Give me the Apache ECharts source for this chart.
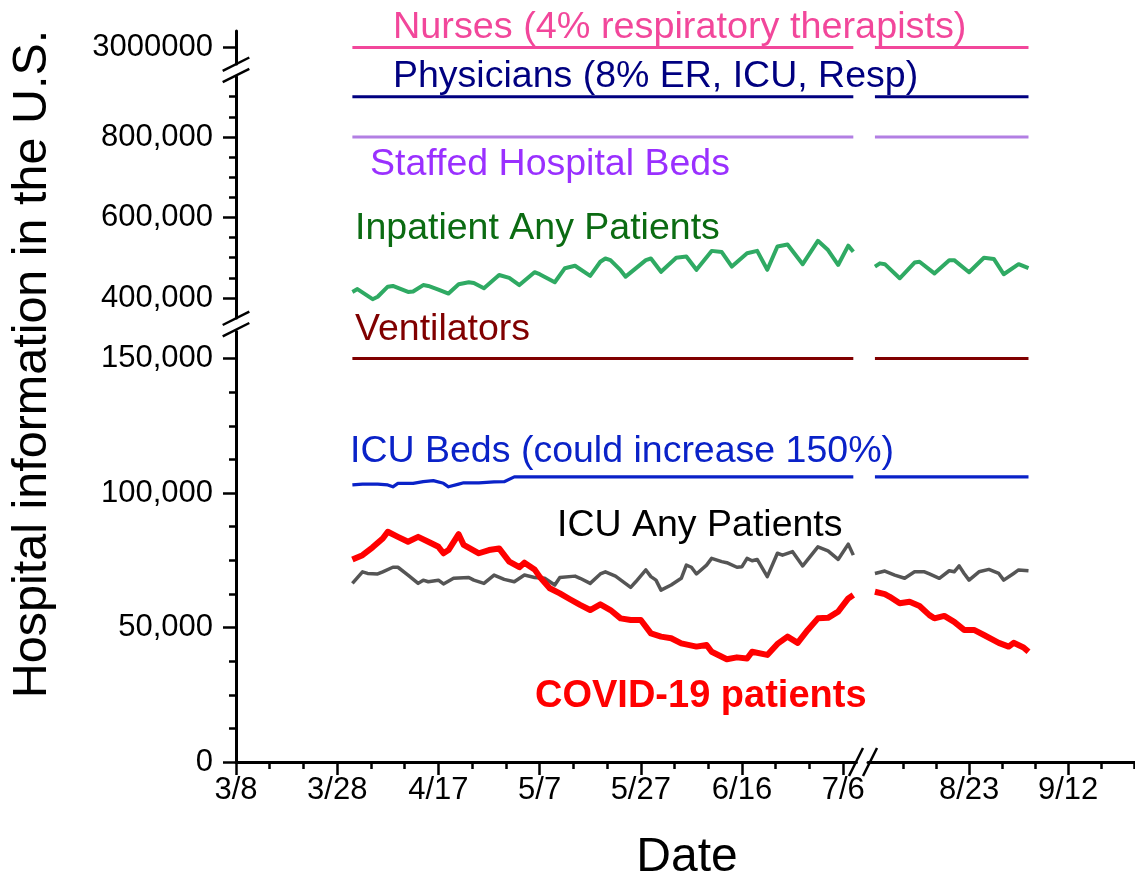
<!DOCTYPE html>
<html>
<head>
<meta charset="utf-8">
<title>Hospital information in the U.S.</title>
<script src="https://cdn.jsdelivr.net/npm/echarts@6/dist/echarts.min.js"></script>
<style>
  html, body { margin: 0; padding: 0; background: #fff; }
  #chart { width: 1135px; height: 882px; }
</style>
</head>
<body>
<div id="chart"></div>
<script>
// ---- data ----
// dates are M/D in 2020, values are people / beds / devices

// COVID-19 patients
const covidDatesA = ['3/31','4/2','4/4','4/6','4/7','4/9','4/11','4/13','4/15','4/17','4/18','4/19','4/21','4/22','4/25','4/27','4/29','5/1','5/3','5/4','5/6','5/7','5/9','5/11','5/13','5/15','5/17','5/19','5/21','5/23','5/25','5/27','5/29','5/31','6/2','6/4','6/7','6/9','6/10','6/13','6/15','6/17','6/18','6/21','6/23','6/25','6/27','6/29','7/1','7/3','7/5','7/7','7/8']
const covidValuesA = [75300,76900,79800,83100,85600,83700,81900,83700,81900,80000,77600,78800,84700,80700,77600,78800,79400,74500,72400,74100,71600,68900,64600,62700,60500,58400,56500,58600,56500,53400,52800,52800,47800,46600,46000,44100,42900,43500,41000,38200,38900,38500,41000,39800,43900,46600,44300,49100,53400,53600,55900,60800,62100]
const covidDatesB = ['8/4','8/6','8/7','8/9','8/11','8/13','8/15','8/16','8/18','8/20','8/22','8/24','8/26','8/29','8/31','9/1','9/3','9/4']
const covidValuesB = [63300,62400,61400,59000,59600,58000,54600,53400,54300,52100,49100,49100,47200,44300,42900,44300,42600,41000]

// ICU any patients
const icuAnyDatesA = ['3/31','4/2','4/3','4/5','4/6','4/8','4/9','4/11','4/13','4/14','4/15','4/17','4/18','4/20','4/23','4/24','4/26','4/28','4/30','5/2','5/4','5/6','5/8','5/10','5/11','5/14','5/15','5/17','5/19','5/20','5/22','5/25','5/26','5/28','5/29','5/30','5/31','6/2','6/4','6/5','6/6','6/7','6/9','6/10','6/12','6/13','6/15','6/16','6/17','6/18','6/19','6/21','6/23','6/24','6/26','6/28','7/1','7/3','7/5','7/7','7/8']
const icuAnyValuesA = [66400,70700,70100,69900,70700,72400,72400,69500,66400,67600,67000,67600,66200,68300,68600,67600,66400,69500,67900,67000,69500,68600,68300,65800,68600,69100,68300,66400,69900,70700,69100,64900,67000,71400,68900,67600,63900,65800,68300,73200,72400,69900,73200,75700,74500,74100,72400,72600,75700,74800,75300,68900,77600,76900,78200,72900,80000,78500,75300,81000,76900]
const icuAnyDatesB = ['8/4','8/6','8/8','8/10','8/12','8/14','8/15','8/17','8/19','8/20','8/21','8/22','8/23','8/25','8/27','8/29','8/30','9/1','9/2','9/4']
const icuAnyValuesB = [70100,71000,69500,68300,70700,70700,69900,68300,71100,70700,72900,70100,67600,70700,71600,70100,67600,70100,71400,71100]

// ICU beds
const icuBedDatesA = ['3/31','4/2','4/5','4/7','4/8','4/9','4/12','4/14','4/16','4/18','4/19','4/21','4/22','4/25','4/28','4/30','5/2','7/8']
const icuBedValuesA = [103000,103300,103300,103000,102300,103600,103600,104200,104600,103600,102300,103300,103800,103800,104100,104200,106000,106000]
const icuBedDatesB = ['8/4','9/4']
const icuBedValuesB = [106000,106000]

// inpatient any patients
const inpatientDatesA = ['3/31','4/1','4/4','4/5','4/7','4/8','4/11','4/12','4/14','4/15','4/17','4/19','4/21','4/23','4/24','4/26','4/29','5/1','5/3','5/6','5/7','5/10','5/12','5/14','5/17','5/19','5/20','5/21','5/23','5/24','5/28','5/29','5/31','6/3','6/5','6/7','6/10','6/12','6/14','6/17','6/19','6/21','6/23','6/25','6/28','7/1','7/3','7/5','7/7','7/8']
const inpatientValuesA = [415000,422000,397000,403000,428000,430000,415000,416000,432000,430000,421000,411000,434000,439000,437000,424000,457000,450000,432000,464000,459000,439000,474000,480000,455000,490000,498000,494000,469000,453000,494000,498000,465000,500000,503000,470000,517000,514000,478000,511000,517000,470000,528000,533000,484000,542000,519000,482000,530000,515000]
const inpatientDatesB = ['8/4','8/5','8/6','8/9','8/12','8/13','8/16','8/19','8/20','8/23','8/26','8/28','8/30','9/2','9/4']
const inpatientValuesB = [478000,486000,484000,449000,488000,490000,461000,494000,494000,464000,500000,497000,459000,484000,474000]

// fixed capacities
const nurses = 3000000
const physicians = 900000
const staffedBeds = 800000
const ventilators = 150000
const spanA = ['3/31', '7/8']
const spanB = ['8/4', '9/4']

// axis ticks
const dateTicksA = ['3/8', '3/28', '4/17', '5/7', '5/27', '6/16', '7/6']
const dateTicksB = ['8/23', '9/12']
const yTicksTop = [3000000]
const yTicksMid = [400000, 600000, 800000]
const yTicksLow = [0, 50000, 100000, 150000]

// ---- helpers ----
const FONT = '"Liberation Sans", Arial, Helvetica, sans-serif'
const DAY0 = Date.UTC(2020, 2, 8)
const dayOf = s => {
  const [m, d] = s.split('/').map(Number)
  return (Date.UTC(2020, m - 1, d) - DAY0) / 864e5
}
const fmtDay = v => {
  const t = new Date(DAY0 + Math.round(v) * 864e5)
  return (t.getUTCMonth() + 1) + '/' + t.getUTCDate()
}
const pts = (dates, vals) => dates.map((d, i) => [dayOf(d), vals[i]])
const flat = (span, v) => span.map(d => [dayOf(d), v])

// ---- layout ----
const PX_DAY = 5.06
const xA = { left: 236, min: 0, max: 122.6 }
const xB = { left: 868, min: 147.6, max: 201.5 }
const bands = [
  { top: 31, height: 33, min: 2983500, max: 3016500 },
  { top: 76.6, height: 241.5, min: 350000, max: 950000 },
  { top: 331.6, height: 430.4, min: 0, max: 160000 }
]

const majorA = dateTicksA.map(dayOf)
const majorB = dateTicksB.map(dayOf)
const minorOf = (majors, lo, hi, step, parts) => {
  const out = []
  for (let v = majors[0] - step * 2; v <= hi; v += step / parts) {
    const r = Math.round(v * 1000) / 1000
    if (r >= lo && r <= hi && !majors.some(m => Math.abs(m - r) < 1e-6)) out.push(r)
  }
  return out
}
const minorA = minorOf(majorA, xA.min + 1, xA.max, 20, 3)
const minorB = minorOf(majorB, xB.min + 1, xB.max, 20, 3)
const minorMid = minorOf(yTicksMid, 400000, 920000, 200000, 4)
const minorLow = minorOf(yTicksLow, 1, 155000, 50000, 4)

const grids = []
bands.forEach(b => {
  ;[xA, xB].forEach(x => {
    grids.push({ left: x.left, top: b.top, width: (x.max - x.min) * PX_DAY, height: b.height, containLabel: false })
  })
})

const axisLineStyle = { color: '#000', width: 3 }
const tickStyle = { color: '#000', width: 2.5 }
const labelStyle = { fontSize: 31, color: '#000', fontFamily: FONT }

const xAxis = grids.map((g, i) => {
  const x = i % 2 ? xB : xA
  const bottom = i >= 4
  return {
    type: 'value', gridIndex: i, min: x.min, max: x.max, position: 'bottom', show: bottom,
    axisLine: { show: true, onZero: false, lineStyle: axisLineStyle },
    axisTick: { show: true, length: 13, lineStyle: tickStyle, customValues: i % 2 ? majorB : majorA },
    axisLabel: { show: true, ...labelStyle, margin: 13, formatter: fmtDay, customValues: i % 2 ? majorB : majorA },
    splitLine: { show: false }
  }
})
// minor ticks on the date axis
;[[4, xA, minorA], [5, xB, minorB]].forEach(([gi, x, vals]) => {
  xAxis.push({
    type: 'value', gridIndex: gi, min: x.min, max: x.max, position: 'bottom',
    axisLine: { show: false, onZero: false },
    axisTick: { show: true, length: 7, lineStyle: tickStyle, customValues: vals },
    axisLabel: { show: false }, splitLine: { show: false }
  })
})

const yTickSets = [yTicksTop, yTicksMid, yTicksLow]
const yAxis = grids.map((g, i) => {
  const b = bands[Math.floor(i / 2)]
  const ticks = yTickSets[Math.floor(i / 2)]
  return {
    type: 'value', gridIndex: i, min: b.min, max: b.max, position: 'left', show: i % 2 === 0,
    axisLine: { show: true, onZero: false, lineStyle: axisLineStyle },
    axisTick: { show: true, length: 13, lineStyle: tickStyle, customValues: ticks },
    axisLabel: {
      show: true, ...labelStyle, margin: 23, customValues: ticks,
      formatter: v => (v >= 1000000 ? String(v) : v.toLocaleString('en-US'))
    },
    splitLine: { show: false }
  }
})
;[[2, minorMid], [4, minorLow]].forEach(([gi, vals]) => {
  const b = bands[gi / 2]
  yAxis.push({
    type: 'value', gridIndex: gi, min: b.min, max: b.max, position: 'left',
    axisLine: { show: false, onZero: false },
    axisTick: { show: true, length: 7, lineStyle: tickStyle, customValues: vals },
    axisLabel: { show: false }, splitLine: { show: false }
  })
})

const line = (gi, data, color, width) => ({
  type: 'line', xAxisIndex: gi, yAxisIndex: gi, data,
  symbol: 'none', silent: true, animation: false,
  lineStyle: { color, width, join: 'round' }, itemStyle: { color }
})

const C = {
  nurses: '#F2479B', physicians: '#000080', staffedLine: '#B27FE3', staffedText: '#9A30FF',
  inpatientLine: '#2FAA63', inpatientText: '#0B6B12', vent: '#800000',
  icuBed: '#0A22C8', icuAny: '#555555', covid: '#FF0000'
}

const series = [
  line(0, flat(spanA, nurses), C.nurses, 3), line(1, flat(spanB, nurses), C.nurses, 3),
  line(2, flat(spanA, physicians), C.physicians, 3), line(3, flat(spanB, physicians), C.physicians, 3),
  line(2, flat(spanA, staffedBeds), C.staffedLine, 3), line(3, flat(spanB, staffedBeds), C.staffedLine, 3),
  line(2, pts(inpatientDatesA, inpatientValuesA), C.inpatientLine, 4),
  line(3, pts(inpatientDatesB, inpatientValuesB), C.inpatientLine, 4),
  line(4, flat(spanA, ventilators), C.vent, 3), line(5, flat(spanB, ventilators), C.vent, 3),
  line(4, pts(icuBedDatesA, icuBedValuesA), C.icuBed, 3.2), line(5, pts(icuBedDatesB, icuBedValuesB), C.icuBed, 3.2),
  line(4, pts(icuAnyDatesA, icuAnyValuesA), C.icuAny, 3.5), line(5, pts(icuAnyDatesB, icuAnyValuesB), C.icuAny, 3.5),
  line(4, pts(covidDatesA, covidValuesA), C.covid, 6), line(5, pts(covidDatesB, covidValuesB), C.covid, 6)
]

// ---- annotations, titles and break marks ----
const note = (text, x, y, color, size, bold, extra) => ({
  type: 'text', x, y, silent: true, z: 10,
  style: Object.assign({ text, fill: color, fontSize: size, fontFamily: FONT, fontWeight: bold ? 'bold' : 'normal', align: 'left', verticalAlign: 'middle' }, extra || {})
})
const slash = (cx, cy, dx, dy) => ({
  type: 'line', silent: true, z: 10,
  shape: { x1: cx - dx, y1: cy + dy, x2: cx + dx, y2: cy - dy },
  style: { stroke: '#000', lineWidth: 2.5 }
})

const graphic = [
  note('Nurses (4% respiratory therapists)', 393, 28, C.nurses, 37.8),
  note('Physicians (8% ER, ICU, Resp)', 393, 77, C.physicians, 37.5),
  note('Staffed Hospital Beds', 370, 165, C.staffedText, 37.5),
  note('Inpatient Any Patients', 355, 229, C.inpatientText, 37.5),
  note('Ventilators', 355, 330, C.vent, 37.5),
  note('ICU Beds (could increase 150%)', 350, 452, C.icuBed, 37.5),
  note('ICU Any Patients', 557, 526, '#000', 37.5),
  note('COVID-19 patients', 535, 697, C.covid, 38, true),
  note('Date', 687, 858, '#000', 48, false, { align: 'center' }),
  Object.assign(note('Hospital information in the U.S.', 0, 0, '#000', 48.5, false, { align: 'center' }), { x: 33, y: 364, rotation: Math.PI / 2 }),
  // y-axis breaks
  slash(236, 64.2, 13.3, 6.7), slash(236, 75.5, 13.3, 6.7),
  slash(236, 318.3, 13.3, 6.7), slash(236, 329.7, 13.3, 6.7),
  // x-axis break
  slash(856, 762, 7, 14), slash(870, 762, 7, 14)
]

const chart = echarts.init(document.getElementById('chart'))
chart.setOption({
  animation: false,
  backgroundColor: '#fff',
  grid: grids,
  xAxis,
  yAxis,
  series,
  graphic
})
</script>
</body>
</html>
